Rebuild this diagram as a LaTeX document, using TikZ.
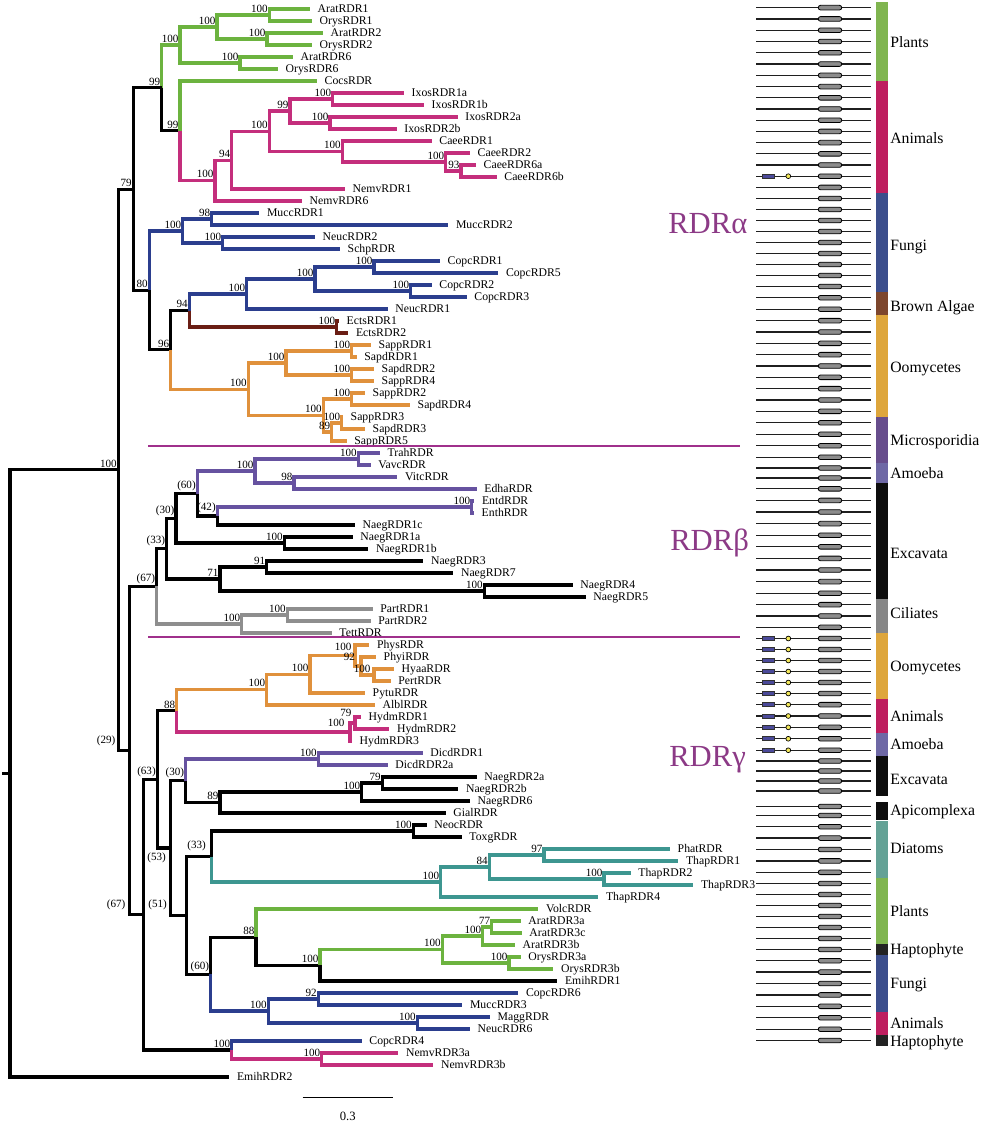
\documentclass[tikz,border=0pt]{standalone}
\usepackage{fontspec}
\setmainfont{Liberation Serif}
\usetikzlibrary{positioning}

% branch colours
\definecolor{plantgreen}{HTML}{6CB33F}
\definecolor{animalpink}{HTML}{C42E7C}
\definecolor{fungiblue}{HTML}{2B3E8E}
\definecolor{algaebrown}{HTML}{6A1E14}
\definecolor{oomyorange}{HTML}{E0913C}
\definecolor{amoebapurple}{HTML}{6652A0}
\definecolor{ciliategrey}{HTML}{8E8E8E}
\definecolor{diatomteal}{HTML}{3D9690}
% group bar colours
\definecolor{plantbar}{HTML}{80B550}
\definecolor{animalbar}{HTML}{BE1E5F}
\definecolor{fungibar}{HTML}{3C4E8C}
\definecolor{algaebar}{HTML}{7D462D}
\definecolor{oomybar}{HTML}{DEA63C}
\definecolor{microbar}{HTML}{674D8C}
\definecolor{amoebabar}{HTML}{6E68A5}
\definecolor{excbar}{HTML}{0D0D0D}
\definecolor{cilbar}{HTML}{878787}
\definecolor{diatbar}{HTML}{64A296}
\definecolor{haptobar}{HTML}{232323}
\definecolor{rdrpurple}{HTML}{8C3A86}
\definecolor{seppurple}{HTML}{A0308C}
\definecolor{dompurple}{HTML}{4B4A9A}
\definecolor{domyellow}{HTML}{F3E85A}

\begin{document}
\begin{tikzpicture}[x=0.75pt, y=-0.75pt]
    % Styles
    \tikzstyle{leaf} = [anchor=west, inner xsep=5.6pt, inner ysep=1pt, text height=5.9pt, text depth=0pt, font=\fontsize{8.8}{10}\selectfont]
    \tikzstyle{boot} = [anchor=south east, inner xsep=1pt, inner ysep=1.8pt, font=\fontsize{8.3}{9}\selectfont]
    \tikzstyle{branch} = [line width=2.3pt]
    \tikzstyle{brblack} = [branch, black]
    \tikzstyle{brplant} = [branch, plantgreen]
    \tikzstyle{branimal} = [branch, animalpink]
    \tikzstyle{brfungi} = [branch, fungiblue]
    \tikzstyle{bralgae} = [branch, algaebrown]
    \tikzstyle{broomy} = [branch, oomyorange]
    \tikzstyle{bramoeba} = [branch, amoebapurple]
    \tikzstyle{brcil} = [branch, ciliategrey]
    \tikzstyle{brdiat} = [branch, diatomteal]
    \tikzstyle{sepline} = [seppurple, line width=0.9pt]
    \tikzstyle{rdrlabel} = [anchor=base west, inner sep=0pt, rdrpurple, font=\fontsize{23}{26}\selectfont]
    \tikzstyle{grouplabel} = [anchor=west, inner sep=0pt, text height=7.9pt, text depth=0pt, font=\fontsize{11.8}{13}\selectfont]
    \tikzstyle{rowline} = [line width=1pt, black!88]
    \tikzstyle{pillbox} = [draw=black, line width=0.6pt, fill=black!45, rounded corners=1.6pt]
    \tikzstyle{dombox} = [draw=black!80, line width=0.5pt, fill=dompurple]
    \tikzstyle{domdot} = [draw=black, line width=0.5pt, fill=domyellow]

    \useasboundingbox (0,0) rectangle (983,1122);

    % Leaves - RDR alpha
    \node[leaf] (arat1) at (310,9) {AratRDR1};
    \node[leaf] (orys1) at (312,21) {OrysRDR1};
    \node[leaf] (arat2) at (323,33) {AratRDR2};
    \node[leaf] (orys2) at (312,45) {OrysRDR2};
    \node[leaf] (arat6) at (293,57) {AratRDR6};
    \node[leaf] (orys6) at (278,69) {OrysRDR6};
    \node[leaf] (cocs) at (317,81) {CocsRDR};
    \node[leaf] (ixos1a) at (404,93) {IxosRDR1a};
    \node[leaf] (ixos1b) at (424,105) {IxosRDR1b};
    \node[leaf] (ixos2a) at (457.7,117) {IxosRDR2a};
    \node[leaf] (ixos2b) at (396.7,129) {IxosRDR2b};
    \node[leaf] (caee1) at (431.7,141) {CaeeRDR1};
    \node[leaf] (caee2) at (470,153) {CaeeRDR2};
    \node[leaf] (caee6a) at (476,165) {CaeeRDR6a};
    \node[leaf] (caee6b) at (496.7,177) {CaeeRDR6b};
    \node[leaf] (nemv1) at (345,189) {NemvRDR1};
    \node[leaf] (nemv6) at (302,201) {NemvRDR6};
    \node[leaf] (mucc1) at (259.3,213) {MuccRDR1};
    \node[leaf] (mucc2) at (448.3,225) {MuccRDR2};
    \node[leaf] (neuc2) at (315,237) {NeucRDR2};
    \node[leaf] (schp) at (340,249) {SchpRDR};
    \node[leaf] (copc1) at (440,261) {CopcRDR1};
    \node[leaf] (copc5) at (498.3,273) {CopcRDR5};
    \node[leaf] (copc2) at (431.7,285) {CopcRDR2};
    \node[leaf] (copc3) at (466.7,297) {CopcRDR3};
    \node[leaf] (neuc1) at (387.7,309) {NeucRDR1};
    \node[leaf] (ects1) at (339,321) {EctsRDR1};
    \node[leaf] (ects2) at (348.3,333) {EctsRDR2};
    \node[leaf] (sapp1) at (371,345) {SappRDR1};
    \node[leaf] (sapd1) at (356.7,357) {SapdRDR1};
    \node[leaf] (sapd2) at (374,369) {SapdRDR2};
    \node[leaf] (sapp4) at (374,381) {SappRDR4};
    \node[leaf] (sapp2) at (365,393) {SappRDR2};
    \node[leaf] (sapd4) at (410,405) {SapdRDR4};
    \node[leaf] (sapp3) at (343,417) {SappRDR3};
    \node[leaf] (sapd3) at (365,429) {SapdRDR3};
    \node[leaf] (sapp5) at (346.7,441) {SappRDR5};
    % Leaves - RDR beta
    \node[leaf] (trah) at (380,453) {TrahRDR};
    \node[leaf] (vavc) at (370.7,465) {VavcRDR};
    \node[leaf] (vitc) at (397.3,477) {VitcRDR};
    \node[leaf] (edha) at (476.7,489) {EdhaRDR};
    \node[leaf] (entd) at (474.3,501) {EntdRDR};
    \node[leaf] (enth) at (474,513) {EnthRDR};
    \node[leaf] (naeg1c) at (355,525) {NaegRDR1c};
    \node[leaf] (naeg1a) at (352.7,537) {NaegRDR1a};
    \node[leaf] (naeg1b) at (368.3,549) {NaegRDR1b};
    \node[leaf] (naeg3) at (423.3,561) {NaegRDR3};
    \node[leaf] (naeg7) at (453.3,573) {NaegRDR7};
    \node[leaf] (naeg4) at (572.7,585) {NaegRDR4};
    \node[leaf] (naeg5) at (585.7,597) {NaegRDR5};
    \node[leaf] (part1) at (372.7,609) {PartRDR1};
    \node[leaf] (part2) at (370.7,621) {PartRDR2};
    \node[leaf] (tett) at (331.7,633) {TettRDR};
    % Leaves - RDR gamma
    \node[leaf] (phys) at (369.3,645) {PhysRDR};
    \node[leaf] (phyi) at (376,657) {PhyiRDR};
    \node[leaf] (hyaa) at (394,669) {HyaaRDR};
    \node[leaf] (pert) at (390.7,681) {PertRDR};
    \node[leaf] (pytu) at (365,693) {PytuRDR};
    \node[leaf] (albl) at (375,705) {AlblRDR};
    \node[leaf] (hydm1) at (361,717) {HydmRDR1};
    \node[leaf] (hydm2) at (389.3,729) {HydmRDR2};
    \node[leaf] (hydm3) at (352,741) {HydmRDR3};
    \node[leaf] (dicd1) at (422.7,753) {DicdRDR1};
    \node[leaf] (dicd2a) at (387.7,765) {DicdRDR2a};
    \node[leaf] (naeg2a) at (476.7,777) {NaegRDR2a};
    \node[leaf] (naeg2b) at (458.3,789) {NaegRDR2b};
    \node[leaf] (naeg6) at (470,801) {NaegRDR6};
    \node[leaf] (gial) at (445.7,813) {GialRDR};
    \node[leaf] (neoc) at (426.7,825) {NeocRDR};
    \node[leaf] (toxg) at (461.7,837) {ToxgRDR};
    \node[leaf] (phat) at (670,849) {PhatRDR};
    \node[leaf] (thap1) at (678.3,861) {ThapRDR1};
    \node[leaf] (thap2) at (630.7,873) {ThapRDR2};
    \node[leaf] (thap3) at (693.3,885) {ThapRDR3};
    \node[leaf] (thap4) at (598.3,897) {ThapRDR4};
    \node[leaf] (volc) at (538.3,909) {VolcRDR};
    \node[leaf] (arat3a) at (520.7,921) {AratRDR3a};
    \node[leaf] (arat3c) at (521.7,933) {AratRDR3c};
    \node[leaf] (arat3b) at (515,945) {AratRDR3b};
    \node[leaf] (orys3a) at (520.7,957) {OrysRDR3a};
    \node[leaf] (orys3b) at (553.3,969) {OrysRDR3b};
    \node[leaf] (emih1) at (557.3,981) {EmihRDR1};
    \node[leaf] (copc6) at (518.3,993) {CopcRDR6};
    \node[leaf] (mucc3) at (462.3,1005) {MuccRDR3};
    \node[leaf] (magg) at (490,1017) {MaggRDR};
    \node[leaf] (neuc6) at (470,1029) {NeucRDR6};
    \node[leaf] (copc4) at (361.7,1041) {CopcRDR4};
    \node[leaf] (nemv3a) at (398.3,1053) {NemvRDR3a};
    \node[leaf] (nemv3b) at (433.3,1065) {NemvRDR3b};
    \node[leaf] (emih2) at (229.3,1077) {EmihRDR2};

    % Internal nodes - RDR alpha
    \coordinate (a1) at (269.3,15);
    \coordinate (a2) at (267,39);
    \coordinate (a12) at (217,27);
    \coordinate (a6) at (240,63);
    \coordinate (p1) at (180,45);
    \coordinate (ixa) at (332.7,99);
    \coordinate (ixb) at (330,123);
    \coordinate (ix99) at (290,111);
    \coordinate (ca3) at (461,171);
    \coordinate (ca2) at (445.7,162);
    \coordinate (ca) at (342.3,151.5);
    \coordinate (ix100) at (269.3,131.3);
    \coordinate (an94) at (231.7,160.1);
    \coordinate (an1) at (215,180.6);
    \coordinate (n99b) at (180,130.8);
    \coordinate (n99a) at (161.7,87.9);
    \coordinate (mu98) at (211.7,219);
    \coordinate (ns100) at (222.7,243);
    \coordinate (f1) at (182.7,231);
    \coordinate (c1) at (374,267);
    \coordinate (c2) at (410.7,291);
    \coordinate (f3) at (315,279);
    \coordinate (f2) at (246.7,294);
    \coordinate (ec) at (336.7,327);
    \coordinate (n94) at (189.3,310.5);
    \coordinate (s1) at (351.7,351);
    \coordinate (s2) at (351.7,375);
    \coordinate (oo2) at (286,363);
    \coordinate (s3) at (351.7,399);
    \coordinate (s4) at (341.7,423);
    \coordinate (s89) at (331.7,432);
    \coordinate (oo3) at (323.3,415.5);
    \coordinate (oo1) at (248.3,389.3);
    \coordinate (n96) at (170.7,349.9);
    \coordinate (n80) at (149.3,290.4);
    \coordinate (n79) at (133.3,189.2);
    % Internal nodes - RDR beta
    \coordinate (tr) at (358.3,459);
    \coordinate (v98) at (294,483);
    \coordinate (mi) at (255,471);
    \coordinate (en) at (471.7,507);
    \coordinate (b42) at (217.3,516);
    \coordinate (b60) at (197.3,493.5);
    \coordinate (ng1) at (284.3,543);
    \coordinate (b30) at (176,518.3);
    \coordinate (n91) at (266.7,567);
    \coordinate (n45) at (484.3,591);
    \coordinate (b71) at (220,579);
    \coordinate (b33) at (166.7,548.6);
    \coordinate (pa) at (287.3,615);
    \coordinate (ci) at (241.7,624);
    \coordinate (b67) at (156.7,586.3);
    % Internal nodes - RDR gamma
    \coordinate (g5) at (374,675);
    \coordinate (g92) at (361,666);
    \coordinate (g4) at (355,655.5);
    \coordinate (g3) at (310,674.3);
    \coordinate (g2) at (266.7,689.6);
    \coordinate (hy79) at (355,723);
    \coordinate (hy) at (350,732);
    \coordinate (g88) at (176.7,710.8);
    \coordinate (di) at (318.3,759);
    \coordinate (ng79) at (382.3,783);
    \coordinate (ng100) at (361.7,792);
    \coordinate (g89) at (220,802.5);
    \coordinate (g30) at (185.7,780.8);
    \coordinate (ne) at (413.3,831);
    \coordinate (d97) at (544,855);
    \coordinate (d100) at (604,879);
    \coordinate (d84) at (489.3,867);
    \coordinate (dia) at (440.7,882);
    \coordinate (g33) at (211.7,856.5);
    \coordinate (a77) at (491.7,927);
    \coordinate (a3) at (482.7,936);
    \coordinate (o3) at (509,963);
    \coordinate (pl) at (442.3,949.5);
    \coordinate (e100) at (320,965.3);
    \coordinate (g88b) at (256,937.1);
    \coordinate (f92) at (318.3,999);
    \coordinate (mg) at (417.3,1023);
    \coordinate (fg) at (268.3,1011);
    \coordinate (g60) at (210.7,974.1);
    \coordinate (g51) at (186.7,915.3);
    \coordinate (g53) at (170.7,848);
    \coordinate (g63) at (157.3,779.4);
    \coordinate (nv) at (321.7,1059);
    \coordinate (cn) at (231.7,1050);
    \coordinate (g67) at (143.3,914.7);
    \coordinate (n29) at (129.3,750.5);
    \coordinate (n100) at (118.3,469.9);
    \coordinate (root) at (10,773.4);
    \coordinate (stub) at (2,773.4);

    % Branches - RDR alpha
    \draw[brplant] (a1) |- (arat1) (a1) |- (orys1);
    \draw[brplant] (a2) |- (arat2) (a2) |- (orys2);
    \draw[brplant] (a12) |- (a1) (a12) |- (a2);
    \draw[brplant] (a6) |- (arat6) (a6) |- (orys6);
    \draw[brplant] (p1) |- (a12) (p1) |- (a6);
    \draw[brplant] (n99a) |- (p1);
    \draw[brblack] (n99a) |- (n99b);
    \draw[brplant] (n99b) |- (cocs);
    \draw[branimal] (n99b) |- (an1);
    \draw[branimal] (an1) |- (an94) (an1) |- (nemv6);
    \draw[branimal] (an94) |- (ix100) (an94) |- (nemv1);
    \draw[branimal] (ix100) |- (ix99) (ix100) |- (ca);
    \draw[branimal] (ix99) |- (ixa) (ix99) |- (ixb);
    \draw[branimal] (ixa) |- (ixos1a) (ixa) |- (ixos1b);
    \draw[branimal] (ixb) |- (ixos2a) (ixb) |- (ixos2b);
    \draw[branimal] (ca) |- (caee1) (ca) |- (ca2);
    \draw[branimal] (ca2) |- (caee2) (ca2) |- (ca3);
    \draw[branimal] (ca3) |- (caee6a) (ca3) |- (caee6b);
    \draw[brblack] (n79) |- (n99a) (n79) |- (n80);
    \draw[brfungi] (n80) |- (f1);
    \draw[brblack] (n80) |- (n96);
    \draw[brfungi] (f1) |- (mu98) (f1) |- (ns100);
    \draw[brfungi] (mu98) |- (mucc1) (mu98) |- (mucc2);
    \draw[brfungi] (ns100) |- (neuc2) (ns100) |- (schp);
    \draw[brblack] (n96) |- (n94);
    \draw[broomy] (n96) |- (oo1);
    \draw[brfungi] (n94) |- (f2);
    \draw[bralgae] (n94) |- (ec);
    \draw[brfungi] (f2) |- (f3) (f2) |- (neuc1);
    \draw[brfungi] (f3) |- (c1) (f3) |- (c2);
    \draw[brfungi] (c1) |- (copc1) (c1) |- (copc5);
    \draw[brfungi] (c2) |- (copc2) (c2) |- (copc3);
    \draw[bralgae] (ec) |- (ects1) (ec) |- (ects2);
    \draw[broomy] (oo1) |- (oo2) (oo1) |- (oo3);
    \draw[broomy] (oo2) |- (s1) (oo2) |- (s2);
    \draw[broomy] (s1) |- (sapp1) (s1) |- (sapd1);
    \draw[broomy] (s2) |- (sapd2) (s2) |- (sapp4);
    \draw[broomy] (oo3) |- (s3) (oo3) |- (s89);
    \draw[broomy] (s3) |- (sapp2) (s3) |- (sapd4);
    \draw[broomy] (s89) |- (s4) (s89) |- (sapp5);
    \draw[broomy] (s4) |- (sapp3) (s4) |- (sapd3);

    % Branches - RDR beta
    \draw[brblack] (n29) |- (b67) (n29) |- (g67);
    \draw[brblack] (b67) |- (b33);
    \draw[brcil] (b67) |- (ci);
    \draw[brcil] (ci) |- (pa) (ci) |- (tett);
    \draw[brcil] (pa) |- (part1) (pa) |- (part2);
    \draw[brblack] (b33) |- (b30) (b33) |- (b71);
    \draw[brblack] (b71) |- (n91) (b71) |- (n45);
    \draw[brblack] (n91) |- (naeg3) (n91) |- (naeg7);
    \draw[brblack] (n45) |- (naeg4) (n45) |- (naeg5);
    \draw[brblack] (b30) |- (b60) (b30) |- (ng1);
    \draw[brblack] (ng1) |- (naeg1a) (ng1) |- (naeg1b);
    \draw[bramoeba] (b60) |- (mi);
    \draw[brblack] (b60) |- (b42);
    \draw[bramoeba] (b42) |- (en);
    \draw[brblack] (b42) |- (naeg1c);
    \draw[bramoeba] (en) |- (entd) (en) |- (enth);
    \draw[bramoeba] (mi) |- (tr) (mi) |- (v98);
    \draw[bramoeba] (tr) |- (trah) (tr) |- (vavc);
    \draw[bramoeba] (v98) |- (vitc) (v98) |- (edha);

    % Branches - RDR gamma
    \draw[brblack] (g67) |- (g63) (g67) |- (cn);
    \draw[brfungi] (cn) |- (copc4);
    \draw[branimal] (cn) |- (nv);
    \draw[branimal] (nv) |- (nemv3a) (nv) |- (nemv3b);
    \draw[brblack] (g63) |- (g88) (g63) |- (g53);
    \draw[broomy] (g88) |- (g2);
    \draw[branimal] (g88) |- (hy);
    \draw[broomy] (g2) |- (g3) (g2) |- (albl);
    \draw[broomy] (g3) |- (g4) (g3) |- (pytu);
    \draw[broomy] (g4) |- (phys) (g4) |- (g92);
    \draw[broomy] (g92) |- (phyi) (g92) |- (g5);
    \draw[broomy] (g5) |- (hyaa) (g5) |- (pert);
    \draw[branimal] (hy) |- (hy79) (hy) |- (hydm3);
    \draw[branimal] (hy79) |- (hydm1) (hy79) |- (hydm2);
    \draw[brblack] (g53) |- (g30) (g53) |- (g51);
    \draw[bramoeba] (g30) |- (di);
    \draw[brblack] (g30) |- (g89);
    \draw[bramoeba] (di) |- (dicd1) (di) |- (dicd2a);
    \draw[brblack] (g89) |- (ng100) (g89) |- (gial);
    \draw[brblack] (ng100) |- (ng79) (ng100) |- (naeg6);
    \draw[brblack] (ng79) |- (naeg2a) (ng79) |- (naeg2b);
    \draw[brblack] (g51) |- (g33) (g51) |- (g60);
    \draw[brblack] (g33) |- (ne);
    \draw[brdiat] (g33) |- (dia);
    \draw[brblack] (ne) |- (neoc) (ne) |- (toxg);
    \draw[brdiat] (dia) |- (d84) (dia) |- (thap4);
    \draw[brdiat] (d84) |- (d97) (d84) |- (d100);
    \draw[brdiat] (d97) |- (phat) (d97) |- (thap1);
    \draw[brdiat] (d100) |- (thap2) (d100) |- (thap3);
    \draw[brblack] (g60) |- (g88b);
    \draw[brfungi] (g60) |- (fg);
    \draw[brplant] (g88b) |- (volc);
    \draw[brblack] (g88b) |- (e100);
    \draw[brplant] (e100) |- (pl);
    \draw[brblack] (e100) |- (emih1);
    \draw[brplant] (pl) |- (a3) (pl) |- (o3);
    \draw[brplant] (a3) |- (a77) (a3) |- (arat3b);
    \draw[brplant] (a77) |- (arat3a) (a77) |- (arat3c);
    \draw[brplant] (o3) |- (orys3a) (o3) |- (orys3b);
    \draw[brfungi] (fg) |- (f92) (fg) |- (mg);
    \draw[brfungi] (f92) |- (copc6) (f92) |- (mucc3);
    \draw[brfungi] (mg) |- (magg) (mg) |- (neuc6);

    % Backbone and root
    \draw[brblack] (n100) |- (n79) (n100) |- (n29);
    \draw[brblack] (root) |- (n100) (root) |- (emih2);
    \draw[brblack] (stub) -- (root);

    % Support values - RDR alpha
    \node[boot] (a1b) at (a1) {100};
    \node[boot] (a2b) at (a2) {100};
    \node[boot] (a12b) at (a12) {100};
    \node[boot] (a6b) at (a6) {100};
    \node[boot] (p1b) at (p1) {100};
    \node[boot] (n99ab) at (n99a) {99};
    \node[boot] (n99bb) at (n99b) {99};
    \node[boot] (ixab) at (ixa) {100};
    \node[boot] (ixbb) at (ixb) {100};
    \node[boot] (ix99b) at (ix99) {99};
    \node[boot] (cab) at (ca) {100};
    \node[boot] (ca2b) at (ca2) {100};
    \node[boot] (ca3b) at (ca3) {93};
    \node[boot] (ix100b) at (ix100) {100};
    \node[boot] (an94b) at (an94) {94};
    \node[boot] (an1b) at (an1) {100};
    \node[boot] (mu98b) at (mu98) {98};
    \node[boot] (ns100b) at (ns100) {100};
    \node[boot] (f1b) at (f1) {100};
    \node[boot] (c1b) at (c1) {100};
    \node[boot] (c2b) at (c2) {100};
    \node[boot] (f3b) at (f3) {100};
    \node[boot] (f2b) at (f2) {100};
    \node[boot] (ecb) at (ec) {100};
    \node[boot] (n94b) at (n94) {94};
    \node[boot] (s1b) at (s1) {100};
    \node[boot] (s2b) at (s2) {100};
    \node[boot] (oo2b) at (oo2) {100};
    \node[boot] (s3b) at (s3) {100};
    \node[boot] (s4b) at (s4) {100};
    \node[boot] (s89b) at (s89) {89};
    \node[boot] (oo3b) at (oo3) {100};
    \node[boot] (oo1b) at (oo1) {100};
    \node[boot] (n96b) at (n96) {96};
    \node[boot] (n80b) at (n80) {80};
    \node[boot] (n79b) at (n79) {79};
    % Support values - RDR beta
    \node[boot] (trb) at (tr) {100};
    \node[boot] (v98b) at (v98) {98};
    \node[boot] (mib) at (mi) {100};
    \node[boot] (enb) at (en) {100};
    \node[boot] (b42b) at (b42) {(42)};
    \node[boot] (b60b) at (b60) {(60)};
    \node[boot] (ng1b) at (ng1) {100};
    \node[boot] (b30b) at (b30) {(30)};
    \node[boot] (n91b) at (n91) {91};
    \node[boot] (n45b) at (n45) {100};
    \node[boot] (b71b) at (b71) {71};
    \node[boot] (b33b) at (b33) {(33)};
    \node[boot] (pab) at (pa) {100};
    \node[boot] (cib) at (ci) {100};
    \node[boot] (b67b) at (b67) {(67)};
    % Support values - RDR gamma
    \node[boot] (g5b) at (372,675) {100};
    \node[boot] (g92b) at (356.5,663) {92};
    \node[boot] (g4b) at (353,653) {100};
    \node[boot] (g3b) at (g3) {100};
    \node[boot] (g2b) at (g2) {100};
    \node[boot] (hy79b) at (353,719.5) {79};
    \node[boot] (hyb) at (346,729.5) {100};
    \node[boot] (g88lb) at (g88) {88};
    \node[boot] (dib) at (di) {100};
    \node[boot] (ng79b) at (ng79) {79};
    \node[boot] (ng100b) at (ng100) {100};
    \node[boot] (g89lb) at (g89) {89};
    \node[boot] (g30b) at (g30) {(30)};
    \node[boot] (neb) at (ne) {100};
    \node[boot] (d97b) at (d97) {97};
    \node[boot] (d100b) at (d100) {100};
    \node[boot] (d84b) at (d84) {84};
    \node[boot] (diab) at (dia) {100};
    \node[boot] (g33b) at (207.5,853.5) {(33)};
    \node[boot] (a77b) at (a77) {77};
    \node[boot] (a3b) at (a3) {100};
    \node[boot] (o3b) at (o3) {100};
    \node[boot] (plb) at (pl) {100};
    \node[boot] (e100b) at (e100) {100};
    \node[boot] (g88bb) at (g88b) {88};
    \node[boot] (f92b) at (f92) {92};
    \node[boot] (mgb) at (mg) {100};
    \node[boot] (fgb) at (fg) {100};
    \node[boot] (g60b) at (g60) {(60)};
    \node[boot] (g51b) at (168.5,913) {(51)};
    \node[boot, anchor=north east] (g53b) at (167.5,850) {(53)};
    \node[boot] (g63b) at (g63) {(63)};
    \node[boot] (nvb) at (nv) {100};
    \node[boot] (cnb) at (cn) {100};
    \node[boot] (g67b) at (127,913) {(67)};
    \node[boot] (n29b) at (117,749) {(29)};
    \node[boot] (n100b) at (n100) {100};

    % Class separators and names
    \coordinate (sepab1) at (148,446);
    \coordinate (sepab2) at (740,446);
    \coordinate (sepbg1) at (148,637);
    \coordinate (sepbg2) at (740,637);
    \draw[sepline] (sepab1) -- (sepab2);
    \draw[sepline] (sepbg1) -- (sepbg2);
    \node[rdrlabel] (rdra) at (668,233) {RDRα};
    \node[rdrlabel] (rdrb) at (670,550) {RDRβ};
    \node[rdrlabel] (rdrg) at (669,766) {RDRγ};

    % Scale bar
    \coordinate (sbar1) at (302.7,1097.7);
    \coordinate (sbar2) at (392.7,1097.7);
    \coordinate (sbarm) at (347.7,1097.7);
    \draw[line width=1.1pt] (sbar1) -- (sbar2);
    \node[below=7pt of sbarm, font=\fontsize{9.5}{11}\selectfont] (sbarl) {0.3};

    % Domain panel and group bars
    \foreach \gtop/\gbot/\gn/\gcol/\gname/\gy/\gdom [count=\gi] in {
        2/81/7/plantbar/Plants/42/0, 81/193/10/animalbar/Animals/138/0,
        193/292/9/fungibar/Fungi/245/0, 292/315/2/algaebar/Brown Algae/306/0,
        315/417/9/oomybar/Oomycetes/367/0, 417/463/4/microbar/Microsporidia/440/0,
        463/483/2/amoebabar/Amoeba/473/0, 483/599/10/excbar/Excavata/553/0,
        599/633/3/cilbar/Ciliates/613/0, 633/699/6/oomybar/Oomycetes/666/1,
        699/733/3/animalbar/Animals/716/1, 733/756/2/amoebabar/Amoeba/744/1,
        756/796/4/excbar/Excavata/779/0, 802/820/2/excbar/Apicomplexa/810/0,
        821/878/5/diatbar/Diatoms/848/0, 878/944/6/plantbar/Plants/911/0,
        944/955/1/haptobar/Haptophyte/949/0, 955/1012/5/fungibar/Fungi/983/0,
        1012/1035/2/animalbar/Animals/1023/0, 1035/1046/1/haptobar/Haptophyte/1041/0}{
        \fill[\gcol] (875.7,\gtop) rectangle (888.3,\gbot);
        \node[grouplabel] (group\gi) at (890,\gy) {\gname};
        \foreach \k in {1,...,\gn}{
            \pgfmathsetmacro{\ry}{\gtop+(\gbot-\gtop)*(\k-0.5)/\gn}
            \draw[rowline] (756,\ry) -- (871,\ry);
            \draw[pillbox] (818.3,{\ry-2.3}) rectangle (841.7,{\ry+2.3});
            \ifnum\gdom=1
                \draw[dombox] (762.7,{\ry-2}) rectangle (774.3,{\ry+2});
                \draw[domdot] (788.3,\ry) circle[radius=1.8pt];
            \fi
        }
    }
    % domain row in RDR alpha (NemvRDR1)
    \draw[dombox] (762.7,174.2) rectangle (774.3,178.2);
    \draw[domdot] (788.3,176.2) circle[radius=1.8pt];
\end{tikzpicture}
\end{document}
